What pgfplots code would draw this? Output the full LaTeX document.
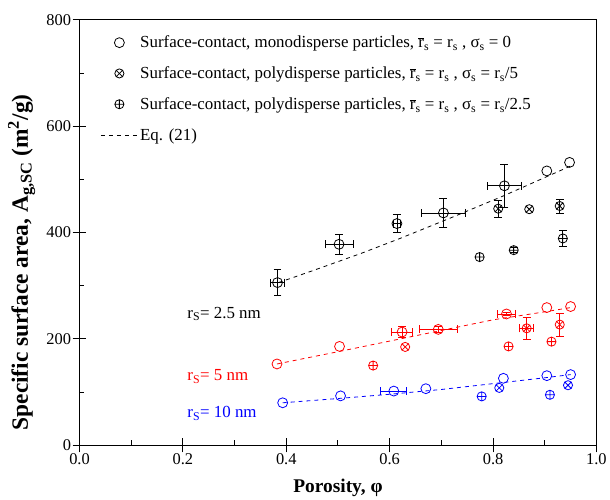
\documentclass[border=0pt]{standalone}
\usepackage{fontspec}
\setmainfont{Liberation Serif}
\usepackage{pgfplots}
\pgfplotsset{compat=1.18}
\usetikzlibrary{plotmarks}
\definecolor{myred}{rgb}{1,0,0}
\definecolor{myblue}{rgb}{0,0,1}
\begin{document}
\begin{tikzpicture}
\begin{axis}[
  scale only axis, width=520pt, height=428pt,
  xmin=0, xmax=1, ymin=0, ymax=800,
  xtick={0,0.2,0.4,0.6,0.8,1.0}, ytick={0,200,400,600,800},
  minor xtick={0.1,0.3,0.5,0.7,0.9}, minor ytick={100,300,500,700},
  tick pos=left, tick align=inside, major tick length=7pt, minor tick length=5pt,
  extra x ticks={0,0.2,0.4,0.6,0.8,1.0}, extra x tick labels={},
  extra y ticks={0,200,400,600,800}, extra y tick labels={},
  extra tick style={tick align=outside, major tick length=7pt},
  axis line style={line width=1pt}, every tick/.style={black, line width=1pt},
  /pgf/number format/assume math mode=true,
  xticklabel style={yshift=-5pt, /pgf/number format/.cd, fixed, fixed zerofill, precision=1},
  yticklabel style={xshift=-5pt},
  tick label style={font=\fontsize{16.5}{19}\selectfont},
  xlabel={\textbf{Porosity, φ}},
  ylabel={\textbf{Specific surface area, A\textsubscript{g,SC} (m\textsuperscript{2}/g)}},
  xlabel style={font=\fontsize{19.5}{22}\selectfont, at={(axis description cs:0.5,-0.11)}, anchor=base},
  ylabel style={font=\fontsize{23.5}{26}\selectfont, at={(axis description cs:-0.112,0.43)}, anchor=center},
  legend style={draw=none, fill=none, at={(axis description cs:0.0,1)}, anchor=north west,
    xshift=18pt, yshift=-12pt, font=\fontsize{17}{20}\selectfont, row sep=13.5pt},
  legend cell align=left,
  legend image code/.code={\path (-10pt,0) (27pt,0); \draw[mark repeat=2, mark phase=2, #1] plot coordinates {(-10pt,0) (8.5pt,0) (27pt,0)};},
  error bars/error bar style={line width=0.8pt},
  error bars/error mark options={rotate=90, mark size=4pt, line width=0.8pt},
]
% ---- legend-bearing series (black) ----
\addplot[only marks, mark=o, mark size=5pt, black, line width=0.8pt] coordinates {(0.904,516) (0.948,532)};
\addlegendentry{Surface-contact, monodisperse particles, $\overline{\hbox{r}}$\textsubscript{s} = r\textsubscript{s} , σ\textsubscript{s} = 0}
\addplot[only marks, mark=otimes, mark size=4.6pt, black, line width=0.8pt] coordinates {(0.870,444)};
\addlegendentry{Surface-contact, polydisperse particles, $\overline{\hbox{r}}$\textsubscript{s} = r\textsubscript{s} , σ\textsubscript{s} = r\textsubscript{s}/5}
\addplot[only marks, mark=oplus, mark size=4.6pt, black, line width=0.8pt] coordinates {(0.774,354)};
\addlegendentry{Surface-contact, polydisperse particles, $\overline{\hbox{r}}$\textsubscript{s} = r\textsubscript{s} , σ\textsubscript{s} = r\textsubscript{s}/2.5}
\addplot[black, line width=0.8pt, dash pattern=on 4pt off 4pt, mark=none] coordinates {
(0.385,306) (0.45,328) (0.545,361) (0.62,389) (0.724,430) (0.82,469) (0.952,526)};
\addlegendentry{Eq. (21)}
% ---- black with error bars ----
\addplot[forget plot, only marks, mark=o, mark size=5pt, black, line width=0.8pt,
  error bars/.cd, x dir=both, x explicit, y dir=both, y explicit, error bar style={black}]
  table[x=x, y=y, x error=ex, y error=ey] {
x y ex ey
0.383 306 0.013 25
0.502 378 0.027 19
0.614 417 0.006 17
0.704 437 0.043 27
0.822 488 0.032 41
};
\addplot[forget plot, only marks, mark=otimes, mark size=4.6pt, black, line width=0.8pt,
  error bars/.cd, y dir=both, y explicit, error bar style={black}]
  table[x=x, y=y, y error=ey] {
x y ey
0.810 445 16
0.929 450 13
};
\addplot[forget plot, only marks, mark=oplus, mark size=4.6pt, black, line width=0.8pt,
  error bars/.cd, y dir=both, y explicit, error bar style={black}]
  table[x=x, y=y, y error=ey] {
x y ey
0.840 367 5
0.935 389 15
};
% ---- red, r = 5 nm ----
\addplot[forget plot, only marks, mark=o, mark size=5pt, myred, line width=0.8pt] coordinates {
(0.382,153) (0.503,186) (0.904,259) (0.950,261)};
\addplot[forget plot, only marks, mark=o, mark size=5pt, myred, line width=0.8pt,
  error bars/.cd, x dir=both, x explicit, y dir=both, y explicit, error bar style={myred}]
  table[x=x, y=y, x error=ex, y error=ey] {
x y ex ey
0.624 213 0.020 10
0.694 218 0.037 6
0.826 247 0.018 3
};
\addplot[forget plot, only marks, mark=otimes, mark size=4.6pt, myred, line width=0.8pt] coordinates {(0.630,185)};
\addplot[forget plot, only marks, mark=otimes, mark size=4.6pt, myred, line width=0.8pt,
  error bars/.cd, x dir=both, x explicit, y dir=both, y explicit, error bar style={myred}]
  table[x=x, y=y, x error=ex, y error=ey] {
x y ex ey
0.865 220 0.014 21
};
\addplot[forget plot, only marks, mark=otimes, mark size=4.6pt, myred, line width=0.8pt,
  error bars/.cd, y dir=both, y explicit, error bar style={myred}]
  table[x=x, y=y, y error=ey] {
x y ey
0.929 227 22
};
\addplot[forget plot, only marks, mark=oplus, mark size=4.6pt, myred, line width=0.8pt] coordinates {
(0.568,150) (0.830,186) (0.913,195)};
\addplot[forget plot, myred, line width=0.8pt, dash pattern=on 4pt off 4pt, mark=none] coordinates {
(0.382,153) (0.5,176) (0.6,196) (0.7,216) (0.8,236) (0.9,251) (0.95,259)};
% ---- blue, r = 10 nm ----
\addplot[forget plot, only marks, mark=o, mark size=5pt, myblue, line width=0.8pt] coordinates {
(0.393,80) (0.505,93) (0.670,106.5) (0.820,126) (0.904,131) (0.950,133)};
\addplot[forget plot, only marks, mark=o, mark size=5pt, myblue, line width=0.8pt,
  error bars/.cd, x dir=both, x explicit, error bar style={myblue}]
  table[x=x, y=y, x error=ex] {
x y ex
0.608 102 0.025
};
\addplot[forget plot, only marks, mark=otimes, mark size=4.6pt, myblue, line width=0.8pt] coordinates {
(0.812,108) (0.945,113)};
\addplot[forget plot, only marks, mark=oplus, mark size=4.6pt, myblue, line width=0.8pt] coordinates {
(0.778,92) (0.910,95)};
\addplot[forget plot, myblue, line width=0.8pt, dash pattern=on 4pt off 4pt, mark=none] coordinates {
(0.393,80) (0.5,88) (0.6,96) (0.7,105) (0.8,116) (0.9,127) (0.95,133)};
% ---- annotations ----
\node[anchor=base west, font=\fontsize{17}{20}\selectfont, black] at (axis cs:0.202,239) {r\textsubscript{S}= 2.5 nm};
\node[anchor=base west, font=\fontsize{17}{20}\selectfont, myred] at (axis cs:0.202,121) {r\textsubscript{S}= 5 nm};
\node[anchor=base west, font=\fontsize{17}{20}\selectfont, myblue] at (axis cs:0.202,52) {r\textsubscript{S}= 10 nm};
\end{axis}
\path ([shift={(-80pt,-54pt)}]current axis.south west) rectangle ([shift={(10pt,20pt)}]current axis.north east);
\end{tikzpicture}
\end{document}
